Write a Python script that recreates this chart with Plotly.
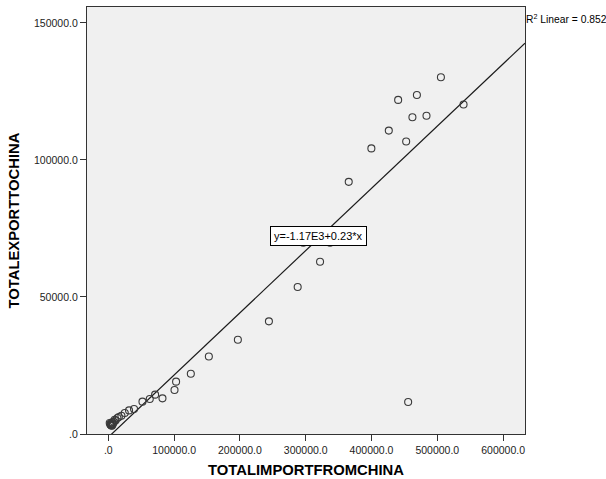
import plotly.graph_objects as go

# Data (import from China vs export to China)
import_from_china = [
    505500, 440500, 469000, 539900, 462200, 483600, 426300, 452700, 399800, 365400,
    321800, 455700, 296300, 337000, 287800, 244100, 196900, 152800, 125400, 103000,
    100600, 82300, 71100, 63000, 51900, 39100, 31500, 25000, 19900, 13850,
    9740, 5630, 3650, 2130, 4000, 5500, 7000, 3000, 4500, 6500, 8500, 11000, 16000,
]
export_to_china = [
    130150, 121900, 123700, 120200, 115600, 116100, 110700, 106700, 104200, 92000,
    62850, 11680, 69800, 69800, 53650, 41100, 34400, 28300, 22000, 19100,
    16050, 13000, 14350, 12770, 11800, 9120, 8610, 7660, 6680, 5840,
    5220, 4230, 3650, 4010, 3300, 3000, 3800, 3500, 3100, 3500, 4400, 4900, 6200,
]

# Fit line as printed on the chart
fit_intercept = -1170.0
fit_slope = 0.227
fit_label = "y=-1.17E3+0.23*x"
r2_label = "R<sup>2</sup> Linear = 0.852"

x_range = [-32400, 633300]
y_range = [0, 155800]
x_tickvals = [0, 100000, 200000, 300000, 400000, 500000, 600000]
x_ticktext = [".0", "100000.0", "200000.0", "300000.0", "400000.0", "500000.0", "600000.0"]
y_tickvals = [0, 50000, 100000, 150000]
y_ticktext = [".0", "50000.0", "100000.0", "150000.0"]

font_family = "Liberation Sans, Arial, sans-serif"

fig = go.Figure()

fit_x = [x_range[0], x_range[1]]
fit_y = [fit_intercept + fit_slope * v for v in fit_x]
fig.add_trace(go.Scatter(
    x=fit_x, y=fit_y, mode="lines",
    line=dict(color="#1a1a1a", width=1.2),
    hoverinfo="skip", showlegend=False,
))

fig.add_trace(go.Scatter(
    x=import_from_china, y=export_to_china, mode="markers",
    marker=dict(symbol="circle-open", size=7, color="#3a3a3a", line=dict(width=1.1)),
    showlegend=False,
))

fig.add_annotation(
    x=320200, y=72400, xref="x", yref="y",
    text=fit_label, showarrow=False,
    font=dict(family=font_family, size=11, color="#000000"),
    bgcolor="#ffffff", bordercolor="#000000", borderwidth=1, borderpad=3,
)

fig.add_annotation(
    x=1.0, y=1.0, xref="paper", yref="paper",
    xanchor="left", yanchor="top", yshift=-3, xshift=-1,
    text=r2_label, showarrow=False,
    font=dict(family=font_family, size=10.3, color="#000000"),
)

axis_common = dict(
    showgrid=False, zeroline=False,
    showline=True, linecolor="#333333", linewidth=1.3, mirror=True,
    ticks="outside", ticklen=6, tickcolor="#333333", tickwidth=1,
    tickfont=dict(family=font_family, size=10.5, color="#222222"),
)

fig.update_xaxes(
    range=x_range, tickvals=x_tickvals, ticktext=x_ticktext,
    title=dict(text="TOTALIMPORTFROMCHINA", standoff=9,
               font=dict(family=font_family, size=14.8, color="#000000", weight="bold")),
    **axis_common,
)
fig.update_yaxes(
    range=y_range, tickvals=y_tickvals, ticktext=y_ticktext,
    title=dict(text="TOTALEXPORTTOCHINA", standoff=10,
               font=dict(family=font_family, size=14.8, color="#000000", weight="bold")),
    **axis_common,
)

fig.update_layout(
    width=606, height=479,
    margin=dict(l=87, r=81, t=7, b=45, autoexpand=False),
    plot_bgcolor="#f0f0f0", paper_bgcolor="#ffffff",
    font=dict(family=font_family),
)

fig.write_html("out.html")
